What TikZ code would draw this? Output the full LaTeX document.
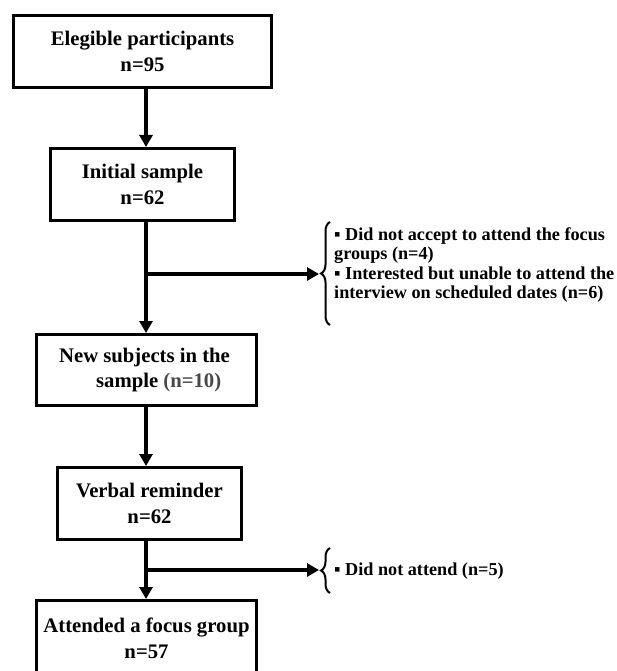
\documentclass[tikz,border=0pt]{standalone}
\usepackage{fontspec}
\setmainfont{Liberation Serif}
\usetikzlibrary{arrows.meta,decorations.pathreplacing}
\definecolor{ngray}{RGB}{72,72,72}
\begin{document}
\begin{tikzpicture}[x=1pt,y=-1pt,
  box/.style={draw,line width=3pt,rectangle,align=center,font=\fontsize{20.7}{25.5}\selectfont\bfseries,inner sep=0pt},
  conn/.style={line width=3.5pt,-{Triangle[width=13pt,length=12pt]}},
  side/.style={font=\fontsize{18.2}{19.3}\selectfont\bfseries,align=left,inner sep=0pt,anchor=west},
  bracestyle/.style={decorate,decoration={brace,amplitude=9pt},line width=2pt}]
\useasboundingbox (0,0) rectangle (616,671);
\clip (0,0) rectangle (616,671);
\node[box,minimum width=258pt,minimum height=72pt] (b1) at (142.5,51.5) {Elegible participants\\n=95};
\node[box,minimum width=184pt,minimum height=72pt] (b2) at (142.5,184.5) {Initial sample\\n=62};
\node[box,minimum width=220pt,minimum height=71pt,align=left] (b3) at (146.5,370) {New subjects in the\hspace*{4pt}\\\hspace*{37pt}sample \textcolor{ngray}{(n=10)}};
\node[box,minimum width=184pt,minimum height=72pt] (b4) at (149.5,503.5) {Verbal reminder\\n=62};
\node[box,minimum width=220pt,minimum height=76pt] (b5) at (146.5,638.5) {Attended a focus group\\n=57};
\coordinate (sx) at (146,0);
\coordinate (j1) at (146,274);
\coordinate (a1) at (319,274);
\coordinate (j2) at (146,570);
\coordinate (a2) at (319,570);
\coordinate (br1t) at (330,222);
\coordinate (br1b) at (330,325);
\coordinate (br2t) at (330,548);
\coordinate (br2b) at (330,593);
\draw[conn] (b1.south -| sx) -- (b2.north -| sx);
\draw[conn] (b2.south -| sx) -- (b3.north -| sx);
\draw[conn] (b3.south -| sx) -- (b4.north -| sx);
\draw[conn] (b4.south -| sx) -- (b5.north -| sx);
\draw[conn] (j1) -- (a1);
\draw[conn] (j2) -- (a2);
\draw[bracestyle] (br1b) -- (br1t);
\draw[bracestyle] (br2b) -- (br2t);
\node[side] (s1) at (334,265) {▪ Did not accept to attend the focus\\groups (n=4)\\▪ Interested but unable to attend the\\interview on scheduled dates (n=6)};
\node[side] (s2) at (334,571) {▪ Did not attend (n=5)};
\end{tikzpicture}
\end{document}
